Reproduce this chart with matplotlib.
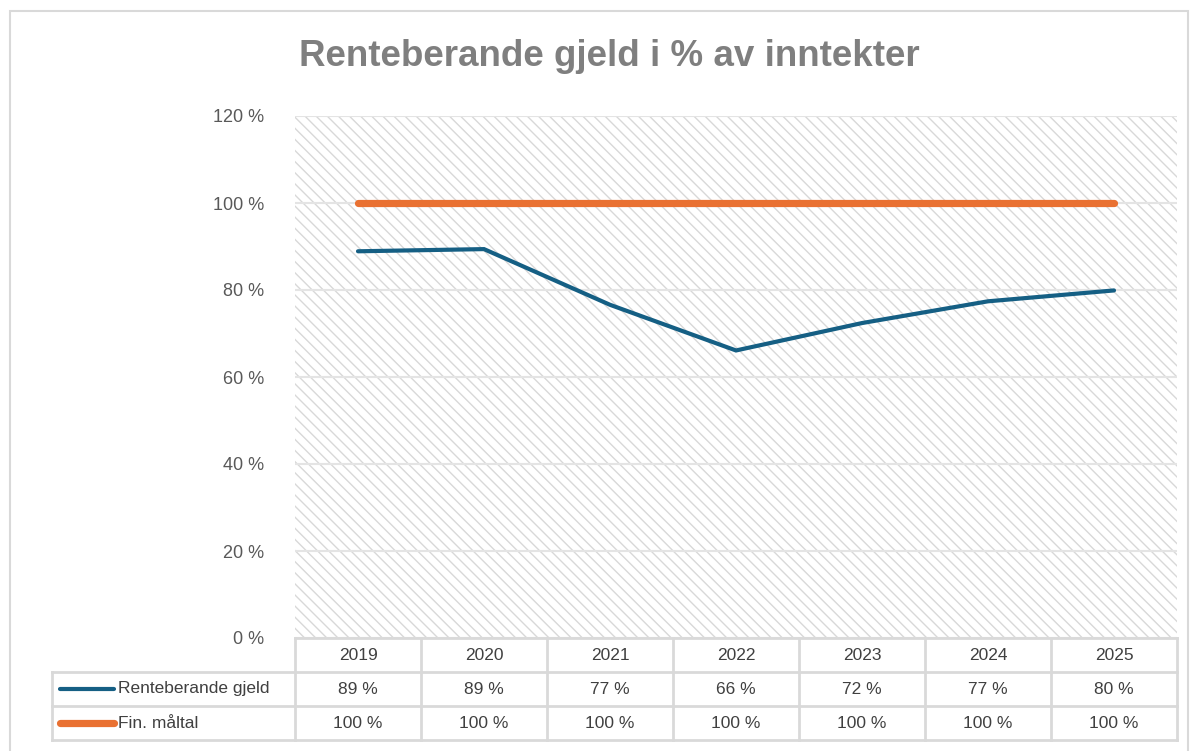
import numpy as np
import matplotlib.pyplot as plt
from matplotlib.patches import Rectangle
from matplotlib.transforms import blended_transform_factory

plt.rcParams['font.family'] = ['Liberation Sans', 'DejaVu Sans']

years = ['2019', '2020', '2021', '2022', '2023', '2024', '2025']
gjeld = [88.9, 89.4, 76.6, 66.1, 72.4, 77.4, 79.9]
maltal = [100, 100, 100, 100, 100, 100, 100]
series_names = ['Renteberande gjeld', 'Fin. måltal']
yticks = [0, 20, 40, 60, 80, 100, 120]

blue = '#155f84'
orange = '#e97132'
grid = '#d9d9d9'
txt = '#404040'

W, H = 1195, 751
fig = plt.figure(figsize=(W / 100, H / 100), dpi=100)

# plot area in pixels
L, R, T, B = 295, 1177, 116, 638
ax = fig.add_axes([L / W, 1 - B / H, (R - L) / W, (B - T) / H])

plt.rcParams['hatch.linewidth'] = 1.0
ax.add_patch(Rectangle((0, 0), 1, 1, transform=ax.transAxes, facecolor='white',
                       edgecolor='#d8d8d8', hatch='\\\\\\', linewidth=0, zorder=0))

x = np.arange(len(years))
for v in yticks:
    ax.axhline(v, color='#e4e4e4', lw=1.5, zorder=1)
ax.plot(x, maltal, color=orange, lw=5.2, solid_capstyle='round', zorder=3)
ax.plot(x, gjeld, color=blue, lw=3, solid_capstyle='round', solid_joinstyle='miter', zorder=3)

ax.set_xlim(-0.5, len(years) - 0.5)
ax.set_ylim(0, 120)
ax.set_xticks([])
ax.set_yticks(yticks)
ax.set_yticklabels([f'{v} %' for v in yticks], color='#595959', fontsize=13)
ax.tick_params(axis='y', length=0, pad=22)
for s in ax.spines.values():
    s.set_visible(False)

# data table below the plot
tr = blended_transform_factory(ax.transData, ax.transAxes)
rh = 34 / (B - T)
left = (52 - L) / 126 - 0.5
ys = [0, -rh, -2 * rh, -3 * rh]
ax.plot([-0.5, 6.5], [0, 0], color=grid, lw=2, transform=tr, clip_on=False)
for yy in ys[1:]:
    ax.plot([left, 6.5], [yy, yy], color=grid, lw=2, transform=tr, clip_on=False)
for xx in np.arange(-0.5, 7, 1):
    ax.plot([xx, xx], [0, ys[-1]], color=grid, lw=2, transform=tr, clip_on=False)
ax.plot([left, left], [ys[1], ys[-1]], color=grid, lw=2, transform=tr, clip_on=False)

tfont = dict(fontsize=12.5, color=txt, ha='center', va='center', transform=tr)
for i, yr in enumerate(years):
    ax.text(i, -rh / 2, yr, **tfont)
    ax.text(i, -rh * 1.5, f'{round(gjeld[i])} %', **tfont)
    ax.text(i, -rh * 2.5, f'{round(maltal[i])} %', **tfont)

for k, (name, col, lw) in enumerate(zip(series_names, [blue, orange], [3, 5.2])):
    yy = -rh * (1.5 + k)
    ax.plot([(60 - L) / 126 - 0.5, (114 - L) / 126 - 0.5], [yy, yy], color=col, lw=lw,
            solid_capstyle='round', transform=tr, clip_on=False)
    ax.text((118 - L) / 126 - 0.5, yy, name, fontsize=12.5, color=txt, ha='left',
            va='center', transform=tr)

fig.text(609 / W, 1 - 57 / H, 'Renteberande gjeld i % av inntekter', ha='center',
         va='center', fontsize=26.5, fontweight='bold', color='#7f7f7f')

# chart border
fig.add_artist(Rectangle((10 / W, -0.01), (1188 - 10) / W, 1 - 11 / H + 0.01,
                         transform=fig.transFigure, fill=False, edgecolor='#d9d9d9', lw=1.5))

fig.savefig('out.png', dpi=100, facecolor='white')
